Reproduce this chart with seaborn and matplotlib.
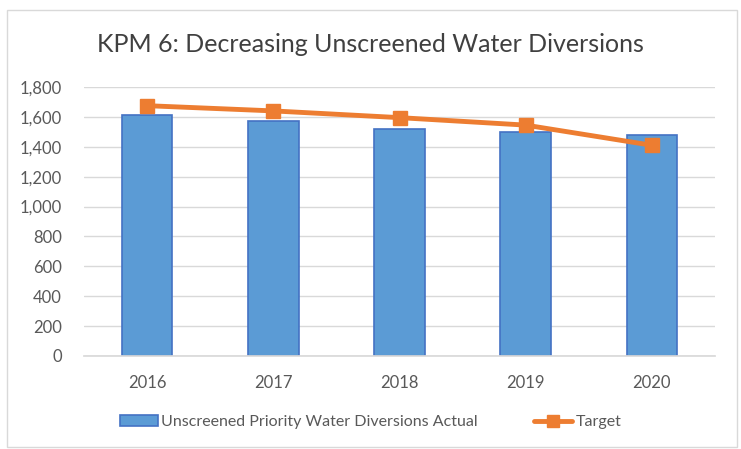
import matplotlib
matplotlib.use("Agg")
import matplotlib.pyplot as plt
import seaborn as sns
import pandas as pd
from matplotlib.patches import Rectangle
from matplotlib.lines import Line2D
from matplotlib.patches import Patch

years = ["2016", "2017", "2018", "2019", "2020"]
actual = [1612, 1572, 1518, 1497, 1478]
target = [1675, 1640, 1595, 1545, 1410]
yticks = [0, 200, 400, 600, 800, 1000, 1200, 1400, 1600, 1800]

sns.set_theme(style="white")
plt.rcParams['font.family'] = ['Lato', 'DejaVu Sans']

df = pd.DataFrame({"year": years, "actual": actual, "target": target})

W, H = 741, 449
fig = plt.figure(figsize=(W/100, H/100), dpi=100)
ax = fig.add_axes([84/W, 1 - 356/H, (715-84)/W, (356-87)/H])

sns.barplot(data=df, x="year", y="actual", ax=ax, color="#5B9BD5",
            edgecolor="#4472C4", linewidth=1.2, width=0.4, saturation=1)
ax.plot(range(len(years)), target, color="#ED7D31", linewidth=3.5,
        marker="s", markersize=10, zorder=5)

ax.set_ylim(0, 1800)
ax.set_xlim(-0.5, 4.5)
ax.set_yticks(yticks)
ax.set_yticklabels([f"{v:,}" for v in yticks])
ax.yaxis.grid(True, color="#D9D9D9", linewidth=1)
ax.set_axisbelow(True)
for s in ["top", "right", "left"]:
    ax.spines[s].set_visible(False)
ax.spines["bottom"].set_color("#D9D9D9")
ax.tick_params(axis="x", length=0, labelsize=12, colors="#595959", pad=14)
ax.tick_params(axis="y", length=0, labelsize=12, colors="#595959", pad=16)
ax.set_xlabel("")
ax.set_ylabel("")

fig.text(0.5, 1 - 45/H, "KPM 6: Decreasing Unscreened Water Diversions",
         ha="center", va="center", fontsize=18, color="#404040")

handles = [Patch(facecolor="#5B9BD5", edgecolor="#4472C4", linewidth=1.2),
           Line2D([0], [0], color="#ED7D31", linewidth=3.5, marker="s", markersize=8)]
labels = ["Unscreened Priority Water Diversions Actual", "Target"]
fig.legend(handles, labels, loc="center", bbox_to_anchor=(0.5, 1 - 422/H),
           ncol=2, frameon=False, fontsize=11.5, labelcolor="#595959",
           handlelength=2.4, handletextpad=0.2, columnspacing=3.5)

fig.patches.append(Rectangle((7/W, 2/H), 730/W, 437/H, transform=fig.transFigure,
                             fill=False, edgecolor="#D9D9D9", linewidth=1))

fig.savefig("out.png", dpi=100)
